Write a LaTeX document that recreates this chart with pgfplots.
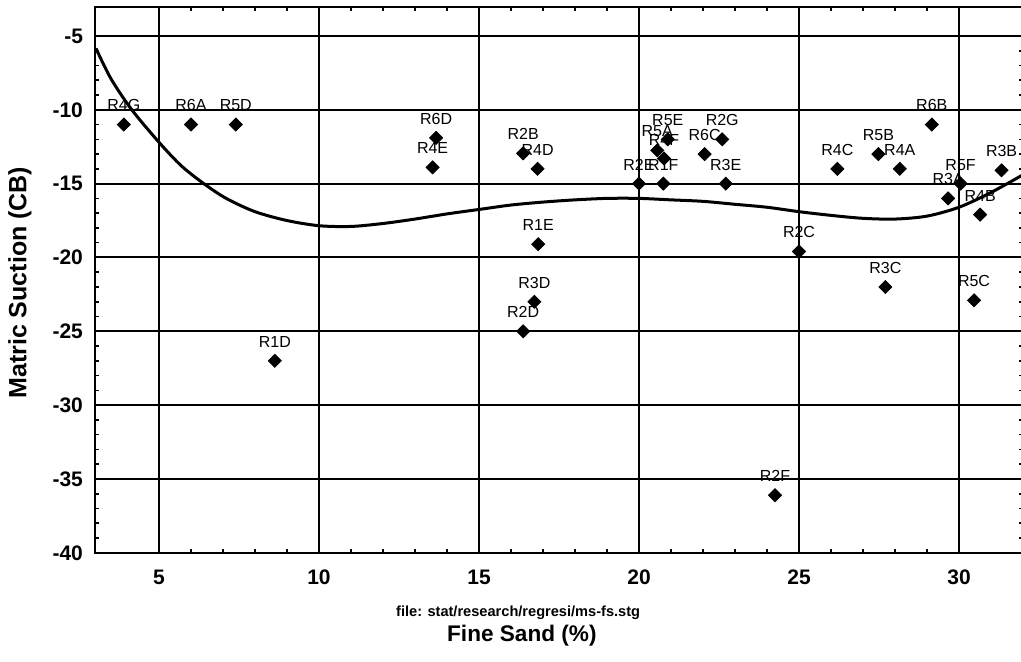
\documentclass[border=0pt]{standalone}
\usepackage{fontspec}
\setmainfont{Liberation Sans}
\usepackage{pgfplots}
\pgfplotsset{compat=1.18}

\pgfplotstableread{
x y label
3.9 -11.0 R4G
6.0 -11.0 R6A
7.4 -11.0 R5D
8.62 -27.0 R1D
13.66 -11.9 R6D
13.55 -13.9 R4E
16.38 -12.95 R2B
16.83 -14.0 R4D
16.85 -19.1 R1E
16.73 -23.0 R3D
16.38 -25.0 R2D
20.0 -15.0 R2E
20.76 -15.0 R1F
22.71 -15.0 R3E
22.05 -13.0 R6C
22.6 -12.0 R2G
20.9 -12.0 R5E
20.57 -12.75 R5A
20.78 -13.3 R4F
24.25 -36.1 R2F
25.0 -19.6 R2C
26.2 -14.0 R4C
27.48 -13.0 R5B
28.15 -14.0 R4A
29.15 -11.0 R6B
27.7 -22.0 R3C
30.05 -15.0 R5F
29.66 -16.0 R3A
30.66 -17.1 R4B
31.33 -14.1 R3B
30.47 -22.9 R5C
}\points

\begin{document}
\begin{tikzpicture}
\begin{axis}[
  scale only axis, width=464pt, height=272.9pt,
  xmin=3, xmax=32, ymin=-40, ymax=-3.04,
  clip=false,
  xtick={5,10,15,20,25,30}, xticklabels={5,10,15,20,25,30},
  ytick={-40,-35,-30,-25,-20,-15,-10,-5},
  yticklabels={-40,-35,-30,-25,-20,-15,-10,-5},
  minor x tick num=4, minor y tick num=4,
  grid=major, major grid style={black, line width=1pt},
  axis line style={black, line width=1.1pt},
  tick align=inside, major tick length=0pt, minor tick length=2pt,
  minor tick style={black, line width=0.8pt},
  tick label style={font=\fontsize{10.5}{12}\selectfont\bfseries},
  xticklabel style={yshift=-5pt},
  yticklabel style={xshift=-2.5pt},
  xlabel={Fine Sand (\%)},
  xlabel style={at={(axis description cs:0.46,-0.152)}, anchor=center,
    font=\fontsize{11.3}{13}\selectfont\bfseries},
  ylabel={Matric Suction (CB)},
  ylabel style={at={(axis description cs:-0.0808,0.495)}, anchor=center,
    font=\fontsize{12.5}{14}\selectfont\bfseries},
]
% fitted curve
\addplot[black, line width=1.5pt, smooth, tension=0.5] coordinates {
  (3.03,-5.84) (3.5,-7.9) (4.15,-10.0) (5,-12.2) (5.7,-13.8) (6.4,-15.0)
  (7.1,-16.0) (8,-16.9) (9,-17.5) (10,-17.85) (11,-17.9) (12,-17.7)
  (13,-17.4) (14,-17.05) (15,-16.75) (16,-16.45) (17,-16.25) (18,-16.1)
  (19,-16.0) (20,-16.0) (21,-16.1) (22,-16.2) (23,-16.4) (24,-16.6)
  (25,-16.9) (26,-17.15) (27,-17.35) (28,-17.4) (29,-17.2) (30,-16.6)
  (31,-15.6) (32,-14.4)
};
% labels first, marks on top
\addplot[only marks, mark=*, mark size=0pt, nodes near coords,
  point meta=explicit symbolic,
  every node near coord/.append style={font=\fontsize{8}{9}\selectfont,
    inner sep=0pt, anchor=south, yshift=6.5pt, black}]
  table[x=x, y=y, meta=label] {\points};
\addplot[only marks, mark=square*, mark size=2.3pt,
  mark options={rotate=45, fill=black, draw=black}]
  table[x=x, y=y] {\points};
\node[font=\fontsize{7.3}{9}\selectfont\bfseries] at (axis description cs:0.456,-0.1105)
  {file: stat/research/regresi/ms-fs.stg};
\end{axis}
\pgfresetboundingbox
\path[use as bounding box] ([xshift=-47.5pt,yshift=-54.15pt]current axis.south west)
  rectangle ([xshift=463pt,yshift=3.5pt]current axis.north west);
\end{tikzpicture}
\end{document}
